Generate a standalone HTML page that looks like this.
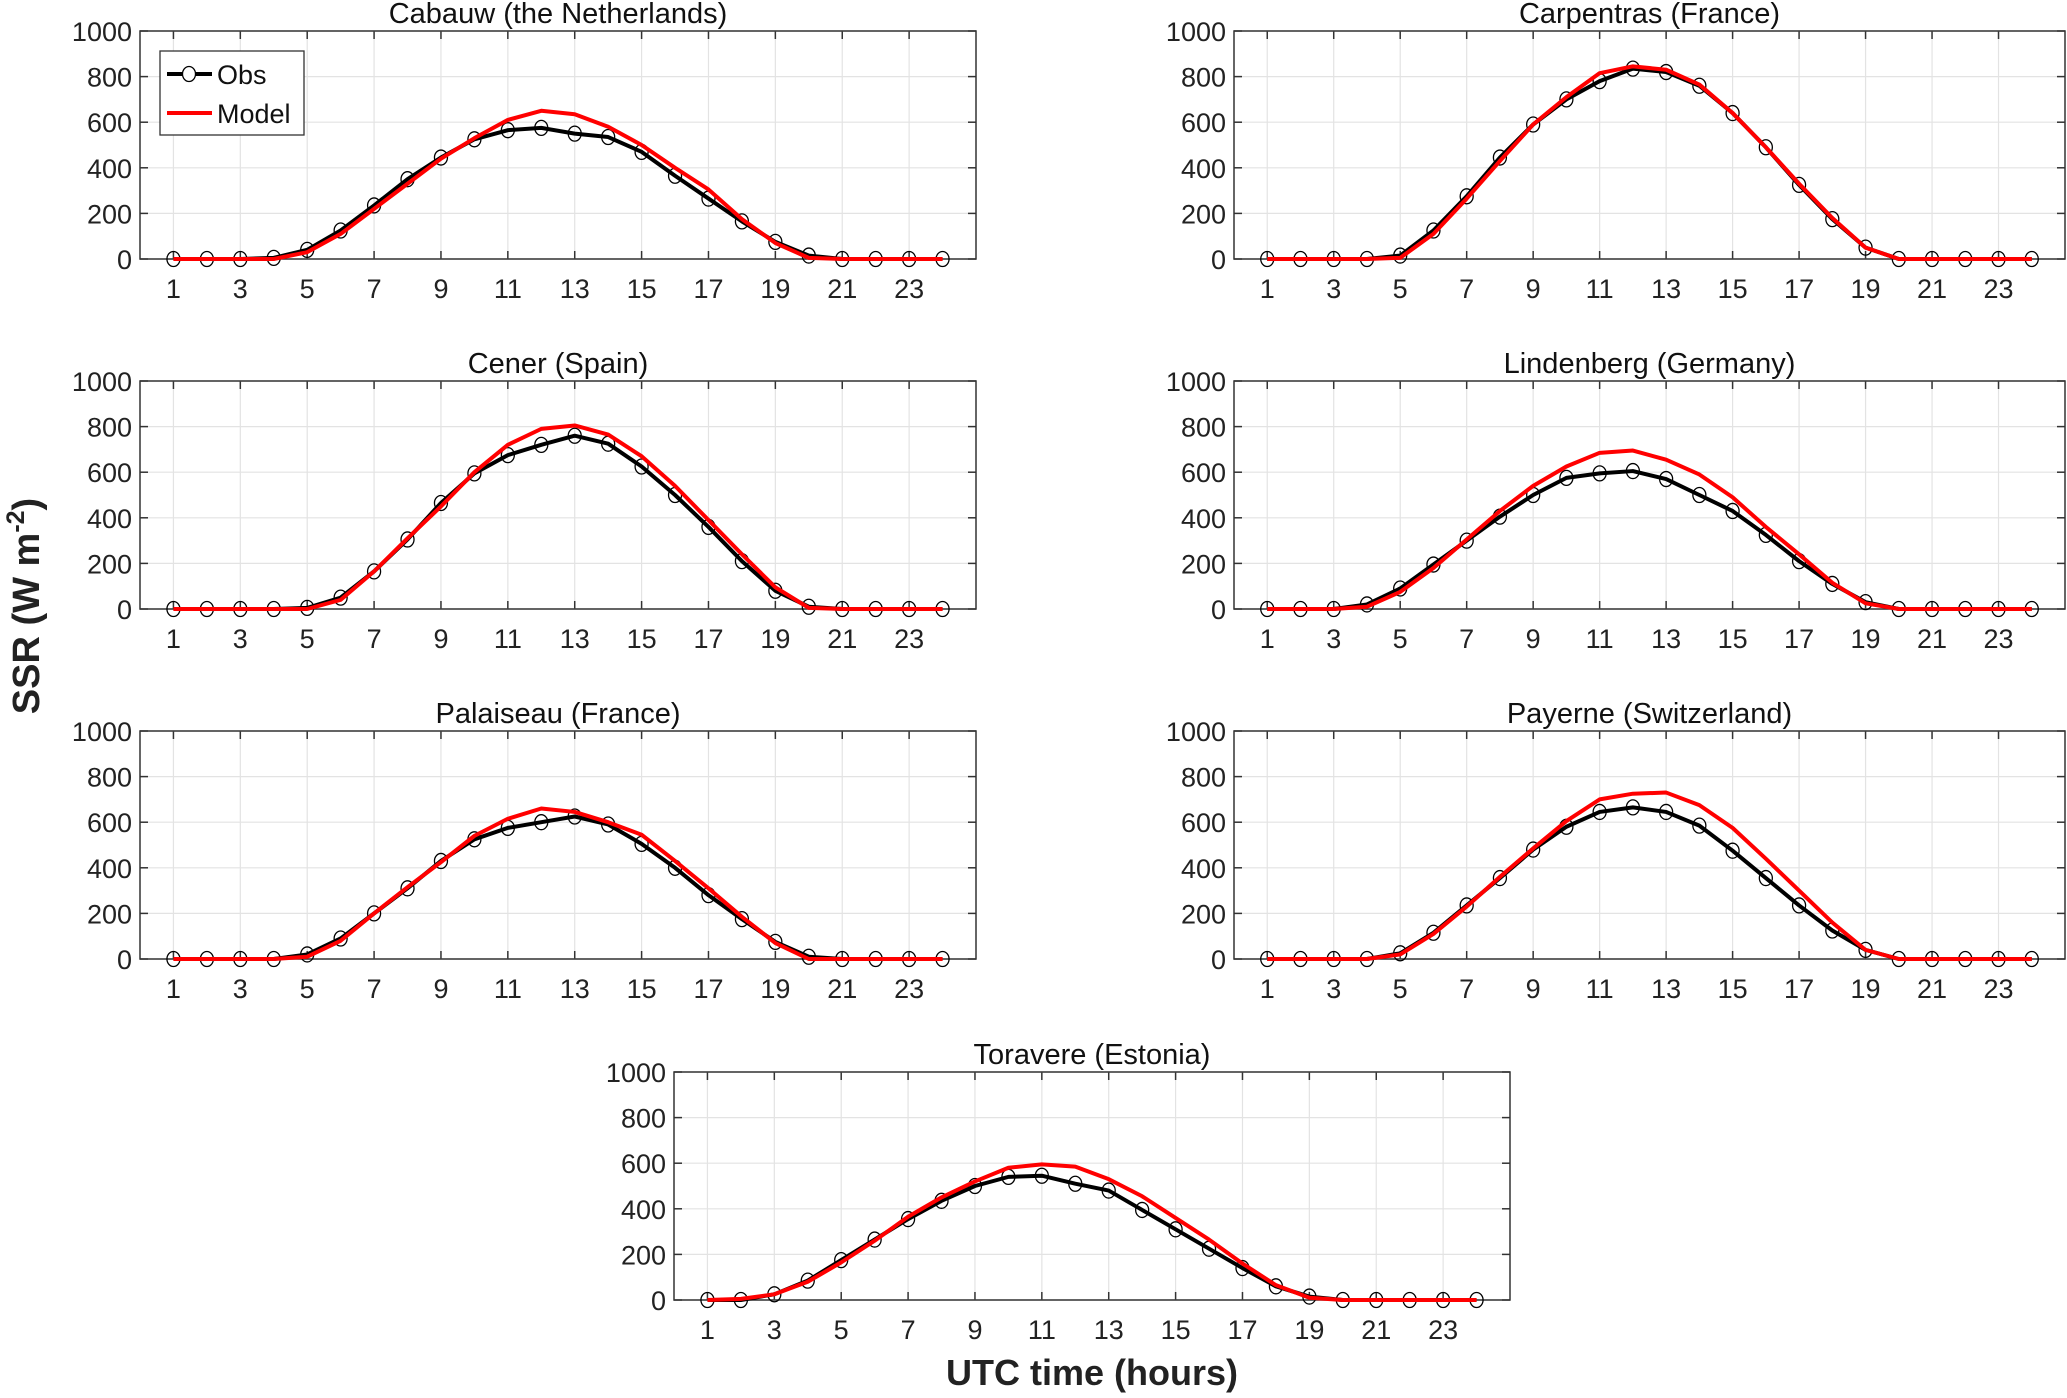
<!DOCTYPE html>
<html><head><meta charset="utf-8"><style>
html,body{margin:0;padding:0;background:#fff;}
svg text{font-family:"Liberation Sans",Arial,sans-serif;}
</style></head><body>
<svg id="fig" width="2067" height="1393" viewBox="0 0 2067 1393" xmlns="http://www.w3.org/2000/svg">
<text transform="translate(39,606) rotate(-90)" text-anchor="middle" font-size="38" font-weight="bold" fill="#222">SSR (W m<tspan font-size="25" dy="-15">-2</tspan><tspan dy="15">)</tspan></text>
<text x="1092" y="1385" text-anchor="middle" font-size="36" font-weight="bold" fill="#222">UTC time (hours)</text>
</svg>
<script>
const hours = [1,2,3,4,5,6,7,8,9,10,11,12,13,14,15,16,17,18,19,20,21,22,23,24];
const yTicks = [0,200,400,600,800,1000];
const xTicks = [1,3,5,7,9,11,13,15,17,19,21,23];
const titles = ["Cabauw (the Netherlands)","Carpentras (France)","Cener (Spain)","Lindenberg (Germany)","Palaiseau (France)","Payerne (Switzerland)","Toravere (Estonia)"];
const obsCabauw = [0,0,0,5,40,125,235,350,445,525,565,575,550,535,470,365,265,165,75,15,0,0,0,0];
const modCabauw = [0,0,0,0,30,110,220,330,440,530,610,650,635,580,500,400,305,175,70,5,0,0,0,0];
const obsCarp = [0,0,0,0,15,125,275,445,590,700,780,835,820,760,640,490,325,175,50,0,0,0,0,0];
const modCarp = [0,0,0,0,5,110,265,430,590,710,815,845,830,765,640,490,330,180,50,0,0,0,0,0];
const obsCener = [0,0,0,0,5,50,165,305,465,595,675,720,760,725,625,500,360,210,80,10,0,0,0,0];
const modCener = [0,0,0,0,0,40,165,310,450,600,720,790,805,765,670,540,390,240,95,5,0,0,0,0];
const obsLind = [0,0,0,20,90,195,300,405,500,575,595,605,570,500,430,325,210,110,30,0,0,0,0,0];
const modLind = [0,0,0,10,75,180,305,430,540,625,685,695,655,590,490,360,240,115,25,0,0,0,0,0];
const obsPal = [0,0,0,0,20,90,200,310,430,525,575,600,625,590,505,400,280,175,75,10,0,0,0,0];
const modPal = [0,0,0,0,10,80,200,315,425,540,615,660,645,600,545,430,310,185,70,0,0,0,0,0];
const obsPay = [0,0,0,0,25,115,235,355,480,580,645,665,645,585,475,355,235,125,40,0,0,0,0,0];
const modPay = [0,0,0,0,20,110,230,360,485,605,700,725,730,675,575,440,300,160,40,0,0,0,0,0];
const obsTor = [0,0,25,85,175,265,355,435,500,540,545,510,480,395,310,225,140,60,15,0,0,0,0,0];
const modTor = [0,5,25,80,165,260,365,450,520,580,595,585,530,455,360,265,160,65,10,0,0,0,0,0];
const obsAll = [obsCabauw,obsCarp,obsCener,obsLind,obsPal,obsPay,obsTor];
const modAll = [modCabauw,modCarp,modCener,modLind,modPal,modPay,modTor];
const boxes = [[140,31,836],[1234,31,831],[140,381,836],[1234,381,831],[140,731,836],[1234,731,831],[674,1072,836]];
const H = 228;
const NS = "http://www.w3.org/2000/svg";
const svg = document.getElementById('fig');
function mk(tag, attrs, parent){const e=document.createElementNS(NS,tag);for(const k in attrs)e.setAttribute(k,attrs[k]);(parent||svg).appendChild(e);return e;}
boxes.forEach((b,i)=>{
  const [L,T,W]=b;
  const sx=v=>L+v/25*W, sy=v=>T+H-v/1000*H;
  const g=mk('g',{});
  
  
  const slug=titles[i].split(' ')[0].toLowerCase();
  xTicks.forEach(t=>{
    const l=mk('line',{x1:sx(t),x2:sx(t),y1:T,y2:T+H,stroke:'#e3e3e3','stroke-width':1.2},g);
    
    mk('line',{x1:sx(t),x2:sx(t),y1:T+H,y2:T+H-8,stroke:'#333','stroke-width':1.5},g);
    mk('line',{x1:sx(t),x2:sx(t),y1:T,y2:T+8,stroke:'#333','stroke-width':1.5},g);
    const tx=mk('text',{x:sx(t),y:T+H+39,'text-anchor':'middle','font-size':27,fill:'#222'},g);
    tx.textContent=t;
  });
  yTicks.forEach(t=>{
    const l=mk('line',{x1:L,x2:L+W,y1:sy(t),y2:sy(t),stroke:'#e3e3e3','stroke-width':1.2},g);
    
    mk('line',{x1:L,x2:L+8,y1:sy(t),y2:sy(t),stroke:'#333','stroke-width':1.5},g);
    mk('line',{x1:L+W,x2:L+W-8,y1:sy(t),y2:sy(t),stroke:'#333','stroke-width':1.5},g);
    const tx=mk('text',{x:L-8,y:sy(t)+10,'text-anchor':'end','font-size':27,fill:'#222'},g);
    tx.textContent=t;
  });
  const fr=mk('rect',{x:L,y:T,width:W,height:H,fill:'none',stroke:'#333','stroke-width':1.5},g);
  
  const ti=mk('text',{x:L+W/2,y:T-8,'text-anchor':'middle','font-size':29,fill:'#111'},g);
  ti.textContent=titles[i];
  const po=hours.map((h,j)=>sx(h)+','+sy(obsAll[i][j])).join(' ');
  const ol=mk('polyline',{points:po,fill:'none',stroke:'#000','stroke-width':4,'stroke-linejoin':'round'},g);
  
  hours.forEach((h,j)=>{
    const c=mk('ellipse',{cx:sx(h),cy:sy(obsAll[i][j]),rx:6.5,ry:7.5,fill:'none',stroke:'#000','stroke-width':1.3},g);
    
  });
  const pm=hours.map((h,j)=>sx(h)+','+sy(modAll[i][j])).join(' ');
  const ml=mk('polyline',{points:pm,fill:'none',stroke:'#ff0000','stroke-width':4,'stroke-linejoin':'round'},g);
  
  if(i===0){
    const lg=mk('g',{},g);
    
    mk('rect',{x:160,y:51,width:144,height:84,fill:'#fff',stroke:'#333','stroke-width':1.3},lg);
    mk('line',{x1:167,x2:212,y1:74,y2:74,stroke:'#000','stroke-width':4},lg);
    mk('ellipse',{cx:189,cy:74,rx:6.5,ry:7.5,fill:'#fff',stroke:'#000','stroke-width':1.3},lg);
    const t1=mk('text',{x:217,y:84,'font-size':27,fill:'#111'},lg);t1.textContent='Obs';
    
    mk('line',{x1:167,x2:212,y1:113,y2:113,stroke:'#ff0000','stroke-width':4},lg);
    const t2=mk('text',{x:217,y:123,'font-size':27,fill:'#111'},lg);t2.textContent='Model';
    
  }
});
</script>
</body></html>
